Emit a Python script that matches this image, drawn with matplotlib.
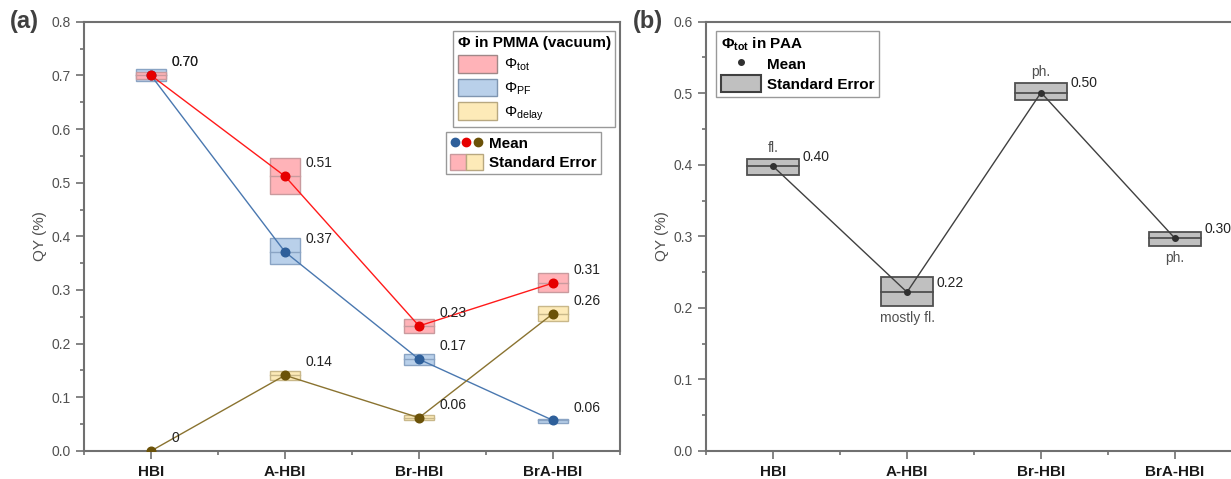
import numpy as np
import matplotlib.pyplot as plt
from matplotlib.patches import Rectangle, Patch
from matplotlib.lines import Line2D
from matplotlib.legend_handler import HandlerTuple
from matplotlib.ticker import MultipleLocator

plt.rcParams['font.family'] = ['Liberation Sans', 'DejaVu Sans']
plt.rcParams['mathtext.fontset'] = 'custom'
plt.rcParams['mathtext.rm'] = 'Liberation Sans'
plt.rcParams['mathtext.it'] = 'Liberation Sans:italic'
plt.rcParams['mathtext.bf'] = 'Liberation Sans:bold'

compounds = ['HBI', 'A-HBI', 'Br-HBI', 'BrA-HBI']

# (a) quantum yields in PMMA: mean and standard-error band (low, high)
tot_mean = [0.700, 0.512, 0.233, 0.313]
tot_lo = [0.693, 0.478, 0.219, 0.296]
tot_hi = [0.707, 0.546, 0.246, 0.331]

pf_mean = [0.700, 0.371, 0.171, 0.057]
pf_lo = [0.689, 0.348, 0.160, 0.052]
pf_hi = [0.711, 0.396, 0.181, 0.060]

delay_mean = [0.000, 0.141, 0.062, 0.256]
delay_lo = [0.000, 0.132, 0.057, 0.242]
delay_hi = [0.000, 0.149, 0.067, 0.270]

# (b) total quantum yield in PAA
paa_mean = [0.398, 0.222, 0.501, 0.297]
paa_lo = [0.386, 0.203, 0.491, 0.287]
paa_hi = [0.408, 0.243, 0.514, 0.306]
paa_notes = ['fl.', 'mostly fl.', 'ph.', 'ph.']
paa_note_above = [True, False, True, False]

AXIS_GRAY = '#707070'
TICK_GRAY = '#505050'


def style_axes(ax, ymax):
    ax.set_xlim(-0.5, 3.5)
    ax.set_ylim(0, ymax)
    ax.set_xticks(range(len(compounds)))
    ax.set_xticklabels(compounds, fontweight='bold', fontsize=11)
    ax.xaxis.set_minor_locator(MultipleLocator(0.5))
    ax.yaxis.set_major_locator(MultipleLocator(0.1))
    ax.yaxis.set_minor_locator(MultipleLocator(0.05))
    ax.yaxis.set_major_formatter(plt.FuncFormatter(lambda v, p: f'{v:.1f}'))
    for s in ax.spines.values():
        s.set_color(AXIS_GRAY)
        s.set_linewidth(1.5)
    ax.tick_params(which='both', direction='out', color=AXIS_GRAY, width=1.2,
                   top=False, right=False)
    ax.tick_params(which='major', length=6)
    ax.tick_params(which='minor', length=3)
    ax.tick_params(axis='y', labelsize=10, labelcolor=TICK_GRAY)
    ax.tick_params(axis='x', pad=4, labelcolor='#1a1a1a')
    ax.set_ylabel('QY (%)', fontsize=11, color=TICK_GRAY, labelpad=3)


def draw_series(ax, mean, lo, hi, line_c, dot_c, fill_c, edge_c, width,
                ms, box_lw=1.0, skip_box=()):
    x = np.arange(len(mean))
    for i in x:
        if i in skip_box:
            continue
        ax.add_patch(Rectangle((i - width / 2, lo[i]), width, hi[i] - lo[i],
                               facecolor=fill_c, edgecolor=edge_c, lw=box_lw, zorder=2))
        ax.plot([i - width / 2, i + width / 2], [mean[i], mean[i]],
                color=edge_c, lw=box_lw, zorder=2)
    ax.plot(x, mean, color=line_c, lw=1.0, zorder=3)
    ax.plot(x, mean, 'o', color=dot_c, ms=ms, zorder=4)


fig = plt.figure(figsize=(12.31, 4.79), dpi=100)
ax1 = fig.add_axes([0.0682, 0.0585, 0.4355, 0.8962])
ax2 = fig.add_axes([0.5735, 0.0585, 0.4355, 0.8962])

# ---- panel (a)
style_axes(ax1, 0.8)
series = [
    (pf_mean, pf_lo, pf_hi, '#4a78b0', '#2e5f9a', '#b9d0ea', '#8aa4c4'),
    (delay_mean, delay_lo, delay_hi, '#8a7330', '#6b5208', '#fdeab8', '#c9b88a'),
    (tot_mean, tot_lo, tot_hi, '#ff1a1a', '#e60000', '#ffb3b8', '#c99a9e'),
]
for mean, lo, hi, lc, dc, fc, ec in series:
    skip = [i for i in range(len(mean)) if hi[i] - lo[i] == 0]
    draw_series(ax1, mean, lo, hi, lc, dc, fc, ec, 0.23, 6.2, skip_box=skip)
    for i, v in enumerate(mean):
        txt = '0' if v == 0 else f'{v:.2f}'
        ax1.text(i + 0.155, v + 0.024, txt, fontsize=10, color='#222222',
                 ha='left', va='center', zorder=5)

leg1 = ax1.legend(
    handles=[Patch(facecolor='#ffb3b8', edgecolor='#a08888', label=r'$\Phi_{\mathrm{tot}}$'),
             Patch(facecolor='#b9d0ea', edgecolor='#7f95b0', label=r'$\Phi_{\mathrm{PF}}$'),
             Patch(facecolor='#fdeab8', edgecolor='#b8a880', label=r'$\Phi_{\mathrm{delay}}$')],
    title='Φ in PMMA (vacuum)', title_fontproperties={'weight': 'bold', 'size': 11},
    alignment='left', loc='upper right', bbox_to_anchor=(0.997, 0.985),
    fontsize=11, fancybox=False, edgecolor='#999999', framealpha=1,
    handlelength=2.6, handleheight=1.4, handletextpad=0.4, borderpad=0.3,
    labelspacing=0.35, borderaxespad=0.2)
leg1.get_frame().set_linewidth(1.0)
ax1.add_artist(leg1)

mean_h = (Line2D([], [], ls='', marker='o', ms=6, color='#2e5f9a'),
          Line2D([], [], ls='', marker='o', ms=6, color='#e60000'),
          Line2D([], [], ls='', marker='o', ms=6, color='#6b5208'))
se_h = (Patch(facecolor='#ffb3b8', edgecolor='#c99a9e'),
        Patch(facecolor='#fdeab8', edgecolor='#b8a880'))
leg2 = ax1.legend(
    handles=[mean_h, se_h], labels=['Mean', 'Standard Error'],
    handler_map={tuple: HandlerTuple(ndivide=None, pad=0.0)},
    loc='upper right', bbox_to_anchor=(0.978, 0.762),
    prop={'weight': 'bold', 'size': 11}, fancybox=False, edgecolor='#999999',
    framealpha=1, handlelength=2.2, handleheight=1.2, handletextpad=0.4,
    borderpad=0.25, labelspacing=0.2)
leg2.get_frame().set_linewidth(1.0)

# ---- panel (b)
style_axes(ax2, 0.6)
draw_series(ax2, paa_mean, paa_lo, paa_hi, '#404040', '#303030', '#c0c0c0',
            '#505050', 0.39, 4, box_lw=1.3)
for i, v in enumerate(paa_mean):
    ax2.text(i + 0.22, v + 0.013, f'{v:.2f}', fontsize=10, color='#222222',
             ha='left', va='center', zorder=5)
    if paa_note_above[i]:
        ax2.text(i, paa_hi[i] + 0.006, paa_notes[i], fontsize=10, color=TICK_GRAY,
                 ha='center', va='bottom')
    else:
        ax2.text(i, paa_lo[i] - 0.008, paa_notes[i], fontsize=10, color=TICK_GRAY,
                 ha='center', va='top')

leg3 = ax2.legend(
    handles=[Line2D([], [], ls='', marker='o', ms=4, color='#303030'),
             Patch(facecolor='#c0c0c0', edgecolor='#404040', lw=1.5)],
    labels=['Mean', 'Standard Error'],
    title=r'$\mathbf{\Phi_{tot}}$ in PAA',
    title_fontproperties={'weight': 'bold', 'size': 11}, alignment='left',
    loc='upper left', bbox_to_anchor=(0.005, 0.997), prop={'weight': 'bold', 'size': 11},
    fancybox=False, edgecolor='#999999', framealpha=1, handlelength=2.6,
    handleheight=1.3, handletextpad=0.4, borderpad=0.3, labelspacing=0.2)
leg3.get_frame().set_linewidth(1.0)

fig.text(0.008, 0.955, '(a)', fontsize=17, fontweight='bold', color='#404040',
         va='center')
fig.text(0.514, 0.955, '(b)', fontsize=17, fontweight='bold', color='#404040',
         va='center')

fig.savefig('out.png', dpi=100)
